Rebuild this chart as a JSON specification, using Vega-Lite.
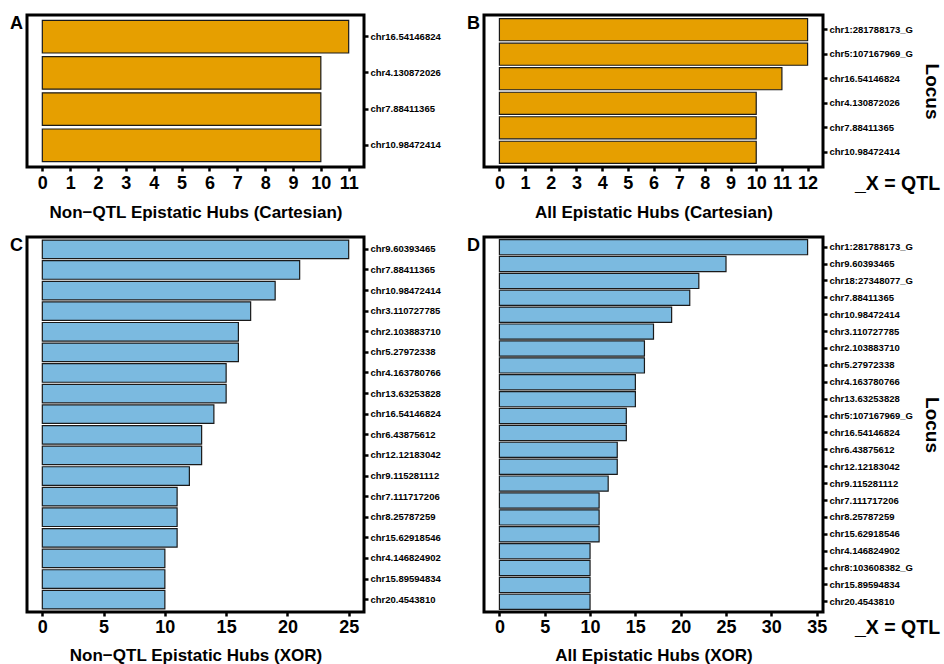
{
  "$schema": "https://vega.github.io/schema/vega-lite/v6.json",
  "padding": {"left": 8, "top": 13, "right": 0, "bottom": 0},
  "background": "white",
  "config": {
    "font": "Liberation Sans",
    "view": {"stroke": "black", "strokeWidth": 3},
    "axis": {"domain": false, "grid": false, "labelColor": "black", "titleColor": "black", "tickColor": "black", "labelFontWeight": "bold", "titleFontWeight": "bold"},
    "title": {"fontSize": 18, "fontWeight": "bold", "color": "black", "anchor": "start", "frame": "group", "baseline": "top"}
  },
  "datasets": {
    "A": [
      {"locus": "chr16.54146824", "hubs": 11},
      {"locus": "chr4.130872026", "hubs": 10},
      {"locus": "chr7.88411365", "hubs": 10},
      {"locus": "chr10.98472414", "hubs": 10}
    ],
    "B": [
      {"locus": "chr1:281788173_G", "hubs": 12, "grp": "QTL"},
      {"locus": "chr5:107167969_G", "hubs": 12, "grp": "QTL"},
      {"locus": "chr16.54146824", "hubs": 11, "grp": "QTL"},
      {"locus": "chr4.130872026", "hubs": 10, "grp": "QTL"},
      {"locus": "chr7.88411365", "hubs": 10, "grp": "QTL"},
      {"locus": "chr10.98472414", "hubs": 10, "grp": "QTL"}
    ],
    "C": [
      {"locus": "chr9.60393465", "hubs": 25},
      {"locus": "chr7.88411365", "hubs": 21},
      {"locus": "chr10.98472414", "hubs": 19},
      {"locus": "chr3.110727785", "hubs": 17},
      {"locus": "chr2.103883710", "hubs": 16},
      {"locus": "chr5.27972338", "hubs": 16},
      {"locus": "chr4.163780766", "hubs": 15},
      {"locus": "chr13.63253828", "hubs": 15},
      {"locus": "chr16.54146824", "hubs": 14},
      {"locus": "chr6.43875612", "hubs": 13},
      {"locus": "chr12.12183042", "hubs": 13},
      {"locus": "chr9.115281112", "hubs": 12},
      {"locus": "chr7.111717206", "hubs": 11},
      {"locus": "chr8.25787259", "hubs": 11},
      {"locus": "chr15.62918546", "hubs": 11},
      {"locus": "chr4.146824902", "hubs": 10},
      {"locus": "chr15.89594834", "hubs": 10},
      {"locus": "chr20.4543810", "hubs": 10}
    ],
    "D": [
      {"locus": "chr1:281788173_G", "hubs": 34, "grp2": "QTL"},
      {"locus": "chr9.60393465", "hubs": 25, "grp2": "QTL"},
      {"locus": "chr18:27348077_G", "hubs": 22, "grp2": "QTL"},
      {"locus": "chr7.88411365", "hubs": 21, "grp2": "QTL"},
      {"locus": "chr10.98472414", "hubs": 19, "grp2": "QTL"},
      {"locus": "chr3.110727785", "hubs": 17, "grp2": "QTL"},
      {"locus": "chr2.103883710", "hubs": 16, "grp2": "QTL"},
      {"locus": "chr5.27972338", "hubs": 16, "grp2": "QTL"},
      {"locus": "chr4.163780766", "hubs": 15, "grp2": "QTL"},
      {"locus": "chr13.63253828", "hubs": 15, "grp2": "QTL"},
      {"locus": "chr5:107167969_G", "hubs": 14, "grp2": "QTL"},
      {"locus": "chr16.54146824", "hubs": 14, "grp2": "QTL"},
      {"locus": "chr6.43875612", "hubs": 13, "grp2": "QTL"},
      {"locus": "chr12.12183042", "hubs": 13, "grp2": "QTL"},
      {"locus": "chr9.115281112", "hubs": 12, "grp2": "QTL"},
      {"locus": "chr7.111717206", "hubs": 11, "grp2": "QTL"},
      {"locus": "chr8.25787259", "hubs": 11, "grp2": "QTL"},
      {"locus": "chr15.62918546", "hubs": 11, "grp2": "QTL"},
      {"locus": "chr4.146824902", "hubs": 10, "grp2": "QTL"},
      {"locus": "chr8:103608382_G", "hubs": 10, "grp2": "QTL"},
      {"locus": "chr15.89594834", "hubs": 10, "grp2": "QTL"},
      {"locus": "chr20.4543810", "hubs": 10, "grp2": "QTL"}
    ]
  },
  "hconcat": [
    {
      "vconcat": [
        {
          "data": {"name": "A"},
          "width": 337,
          "height": 152,
          "title": {"text": "A", "dx": -17, "offset": -18},
          "mark": {"type": "bar", "color": "#E69F00", "stroke": "#1a1a1a", "strokeWidth": 1.2},
          "encoding": {
            "y": {"field": "locus", "type": "nominal", "sort": null, "scale": {"paddingInner": 0.1, "paddingOuter": 0.15},
              "axis": {"orient": "right", "title": null, "labelFontSize": 9.5, "labelPadding": 2, "tickSize": 4, "tickWidth": 2.5}},
            "x": {"field": "hubs", "type": "quantitative", "scale": {"domain": [-0.55, 11.55], "nice": false, "zero": false},
              "axis": {"values": [0,1,2,3,4,5,6,7,8,9,10,11], "title": "Non\u2212QTL Epistatic Hubs (Cartesian)", "labelFontSize": 18, "labelPadding": 3, "tickSize": 4, "tickWidth": 2.5, "titleFontSize": 17, "titlePadding": 12}}
          }
        },
        {
          "data": {"name": "C"},
          "width": 337,
          "height": 375,
          "title": {"text": "C", "dx": -17, "offset": -18},
          "mark": {"type": "bar", "color": "#7BBAE0", "stroke": "#1a1a1a", "strokeWidth": 1.2},
          "encoding": {
            "y": {"field": "locus", "type": "nominal", "sort": null, "scale": {"paddingInner": 0.1, "paddingOuter": 0.15},
              "axis": {"orient": "right", "title": null, "labelFontSize": 9.5, "labelPadding": 2, "tickSize": 4, "tickWidth": 2.5}},
            "x": {"field": "hubs", "type": "quantitative", "scale": {"domain": [-1.25, 26.25], "nice": false, "zero": false},
              "axis": {"values": [0,5,10,15,20,25], "title": "Non\u2212QTL Epistatic Hubs (XOR)", "labelFontSize": 18, "labelPadding": 2, "tickSize": 4, "tickWidth": 2.5, "titleFontSize": 17, "titlePadding": 11}}
          }
        }
      ],
      "spacing": 13
    },
    {
      "vconcat": [
        {
          "data": {"name": "B"},
          "width": 339,
          "height": 152,
          "title": {"text": "B", "dx": -17, "offset": -18},
          "mark": {"type": "bar", "stroke": "#1a1a1a", "strokeWidth": 1.2},
          "encoding": {
            "y": {"field": "locus", "type": "nominal", "sort": null, "scale": {"paddingInner": 0.1, "paddingOuter": 0.15},
              "axis": {"orient": "right", "title": "Locus", "labelFontSize": 9.5, "labelPadding": 2, "tickSize": 4, "tickWidth": 2.5, "titleFontSize": 19, "titlePadding": 9}},
            "x": {"field": "hubs", "type": "quantitative", "scale": {"domain": [-0.6, 12.6], "nice": false, "zero": false},
              "axis": {"values": [0,1,2,3,4,5,6,7,8,9,10,11,12], "title": "All Epistatic Hubs (Cartesian)", "labelFontSize": 18, "labelPadding": 3, "tickSize": 4, "tickWidth": 2.5, "titleFontSize": 17, "titlePadding": 12}},
            "color": {"field": "grp", "type": "nominal", "scale": {"domain": ["QTL"], "range": ["#E69F00"]},
              "legend": {"title": "_X = QTL", "orient": "none", "legendX": 371, "legendY": 160, "padding": 0, "titleFontSize": 19.5, "titleFontWeight": "bold", "titleColor": "black", "symbolOpacity": 0, "symbolSize": 0, "labelExpr": "''", "labelFontSize": 1}}
          }
        },
        {
          "data": {"name": "D"},
          "width": 339,
          "height": 375,
          "title": {"text": "D", "dx": -17, "offset": -18},
          "mark": {"type": "bar", "stroke": "#1a1a1a", "strokeWidth": 1.2},
          "encoding": {
            "y": {"field": "locus", "type": "nominal", "sort": null, "scale": {"paddingInner": 0.1, "paddingOuter": 0.15},
              "axis": {"orient": "right", "title": "Locus", "labelFontSize": 9.5, "labelPadding": 2, "tickSize": 4, "tickWidth": 2.5, "titleFontSize": 19, "titlePadding": 9}},
            "x": {"field": "hubs", "type": "quantitative", "scale": {"domain": [-1.7, 35.7], "nice": false, "zero": false},
              "axis": {"values": [0,5,10,15,20,25,30,35], "title": "All Epistatic Hubs (XOR)", "labelFontSize": 18, "labelPadding": 2, "tickSize": 4, "tickWidth": 2.5, "titleFontSize": 17, "titlePadding": 11}},
            "color": {"field": "grp2", "type": "nominal", "scale": {"domain": ["QTL"], "range": ["#7BBAE0"]},
              "legend": {"title": "_X = QTL", "orient": "none", "legendX": 371, "legendY": 382, "padding": 0, "titleFontSize": 19.5, "titleFontWeight": "bold", "titleColor": "black", "symbolOpacity": 0, "symbolSize": 0, "labelExpr": "''", "labelFontSize": 1}}
          }
        }
      ],
      "spacing": 13,
      "resolve": {"scale": {"color": "independent"}, "legend": {"color": "independent"}}
    }
  ],
  "spacing": 23,
  "resolve": {"scale": {"color": "independent", "x": "independent", "y": "independent"}, "legend": {"color": "independent"}}
}
